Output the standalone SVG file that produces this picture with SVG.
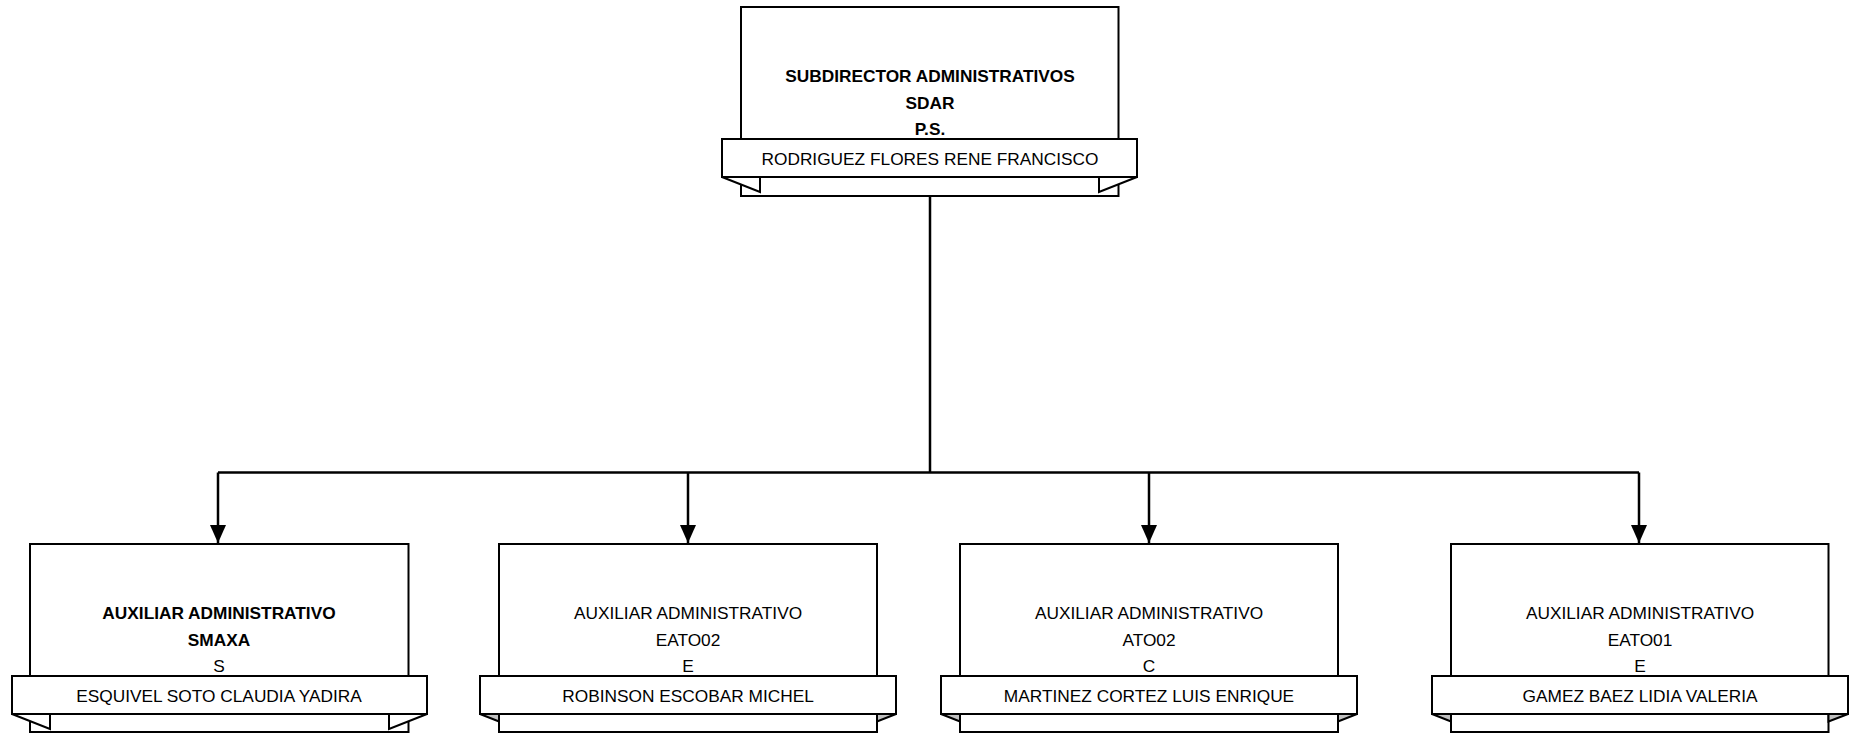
<svg xmlns="http://www.w3.org/2000/svg" width="1850" height="733" viewBox="0 0 1850 733">
<style>
.box{fill:#fff;stroke:#000;stroke-width:2}
.ban{fill:#fff;stroke:#000;stroke-width:2}
.fold{fill:#fff;stroke:#000;stroke-width:2;stroke-linejoin:miter}
.foldg{fill:#c0c0c0;stroke:#000;stroke-width:2}
.t{font-family:"Liberation Sans",Arial,sans-serif;font-size:17.3px;fill:#000;text-anchor:middle}
.b{font-weight:bold}
.con{fill:none;stroke:#000;stroke-width:2.5}
</style>
<defs>
<marker id="arr" markerUnits="userSpaceOnUse" markerWidth="18" markerHeight="20" refX="18" refY="8" orient="auto">
<path d="M0,0 L18,8 L0,16 Z" fill="#000"/>
</marker>
</defs>
<rect width="1850" height="733" fill="#fff"/>
<g id="connectors">
<path class="con" d="M930,196 V472.5"/>
<path class="con" d="M218,472.5 H1639"/>
<path class="con" d="M218,472.5 V543" marker-end="url(#arr)"/>
<path class="con" d="M688,472.5 V543" marker-end="url(#arr)"/>
<path class="con" d="M1149,472.5 V543" marker-end="url(#arr)"/>
<path class="con" d="M1639,472.5 V543" marker-end="url(#arr)"/>
</g>
<g id="node-sdar">
<rect class="box" x="741" y="7" width="377.5" height="189"/>
<text class="t b" x="930" y="81.5">SUBDIRECTOR ADMINISTRATIVOS</text>
<text class="t b" x="930" y="108.5">SDAR</text>
<text class="t b" x="930" y="134.5">P.S.</text>
<polygon class="fold" points="722,177 760,192 760,177"/>
<polygon class="fold" points="1137,177 1099,192 1099,177"/>
<rect class="ban" x="722" y="139" width="415" height="38"/>
<text class="t" x="930" y="164.5">RODRIGUEZ FLORES RENE FRANCISCO</text>
</g>
<g id="node-smaxa">
<rect class="box" x="30" y="544" width="378.5" height="188"/>
<text class="t b" x="219" y="618.5">AUXILIAR ADMINISTRATIVO</text>
<text class="t b" x="219" y="645.5">SMAXA</text>
<text class="t" x="219" y="671.5">S</text>
<polygon class="fold" points="12,714 50,729 50,714"/>
<polygon class="fold" points="427,714 389,729 389,714"/>
<rect class="ban" x="12" y="676" width="415" height="38"/>
<text class="t" x="219" y="701.5">ESQUIVEL SOTO CLAUDIA YADIRA</text>
</g>
<g id="node-eato02">
<rect class="box" x="499" y="544" width="378" height="188"/>
<text class="t" x="688" y="618.5">AUXILIAR ADMINISTRATIVO</text>
<text class="t" x="688" y="645.5">EATO02</text>
<text class="t" x="688" y="671.5">E</text>
<polygon class="foldg" points="480,714 499,721.5 499,714"/>
<polygon class="foldg" points="896,714 877,721.5 877,714"/>
<rect class="ban" x="480" y="676" width="416" height="38"/>
<text class="t" x="688" y="701.5">ROBINSON ESCOBAR MICHEL</text>
</g>
<g id="node-ato02">
<rect class="box" x="960" y="544" width="378" height="188"/>
<text class="t" x="1149" y="618.5">AUXILIAR ADMINISTRATIVO</text>
<text class="t" x="1149" y="645.5">ATO02</text>
<text class="t" x="1149" y="671.5">C</text>
<polygon class="foldg" points="941,714 960,721.5 960,714"/>
<polygon class="foldg" points="1357,714 1338,721.5 1338,714"/>
<rect class="ban" x="941" y="676" width="416" height="38"/>
<text class="t" x="1149" y="701.5">MARTINEZ CORTEZ LUIS ENRIQUE</text>
</g>
<g id="node-eato01">
<rect class="box" x="1451" y="544" width="377.5" height="188"/>
<text class="t" x="1640" y="618.5">AUXILIAR ADMINISTRATIVO</text>
<text class="t" x="1640" y="645.5">EATO01</text>
<text class="t" x="1640" y="671.5">E</text>
<polygon class="foldg" points="1432,714 1451,721.5 1451,714"/>
<polygon class="foldg" points="1848,714 1828.5,721.5 1828.5,714"/>
<rect class="ban" x="1432" y="676" width="416" height="38"/>
<text class="t" x="1640" y="701.5">GAMEZ BAEZ LIDIA VALERIA</text>
</g>
</svg>
